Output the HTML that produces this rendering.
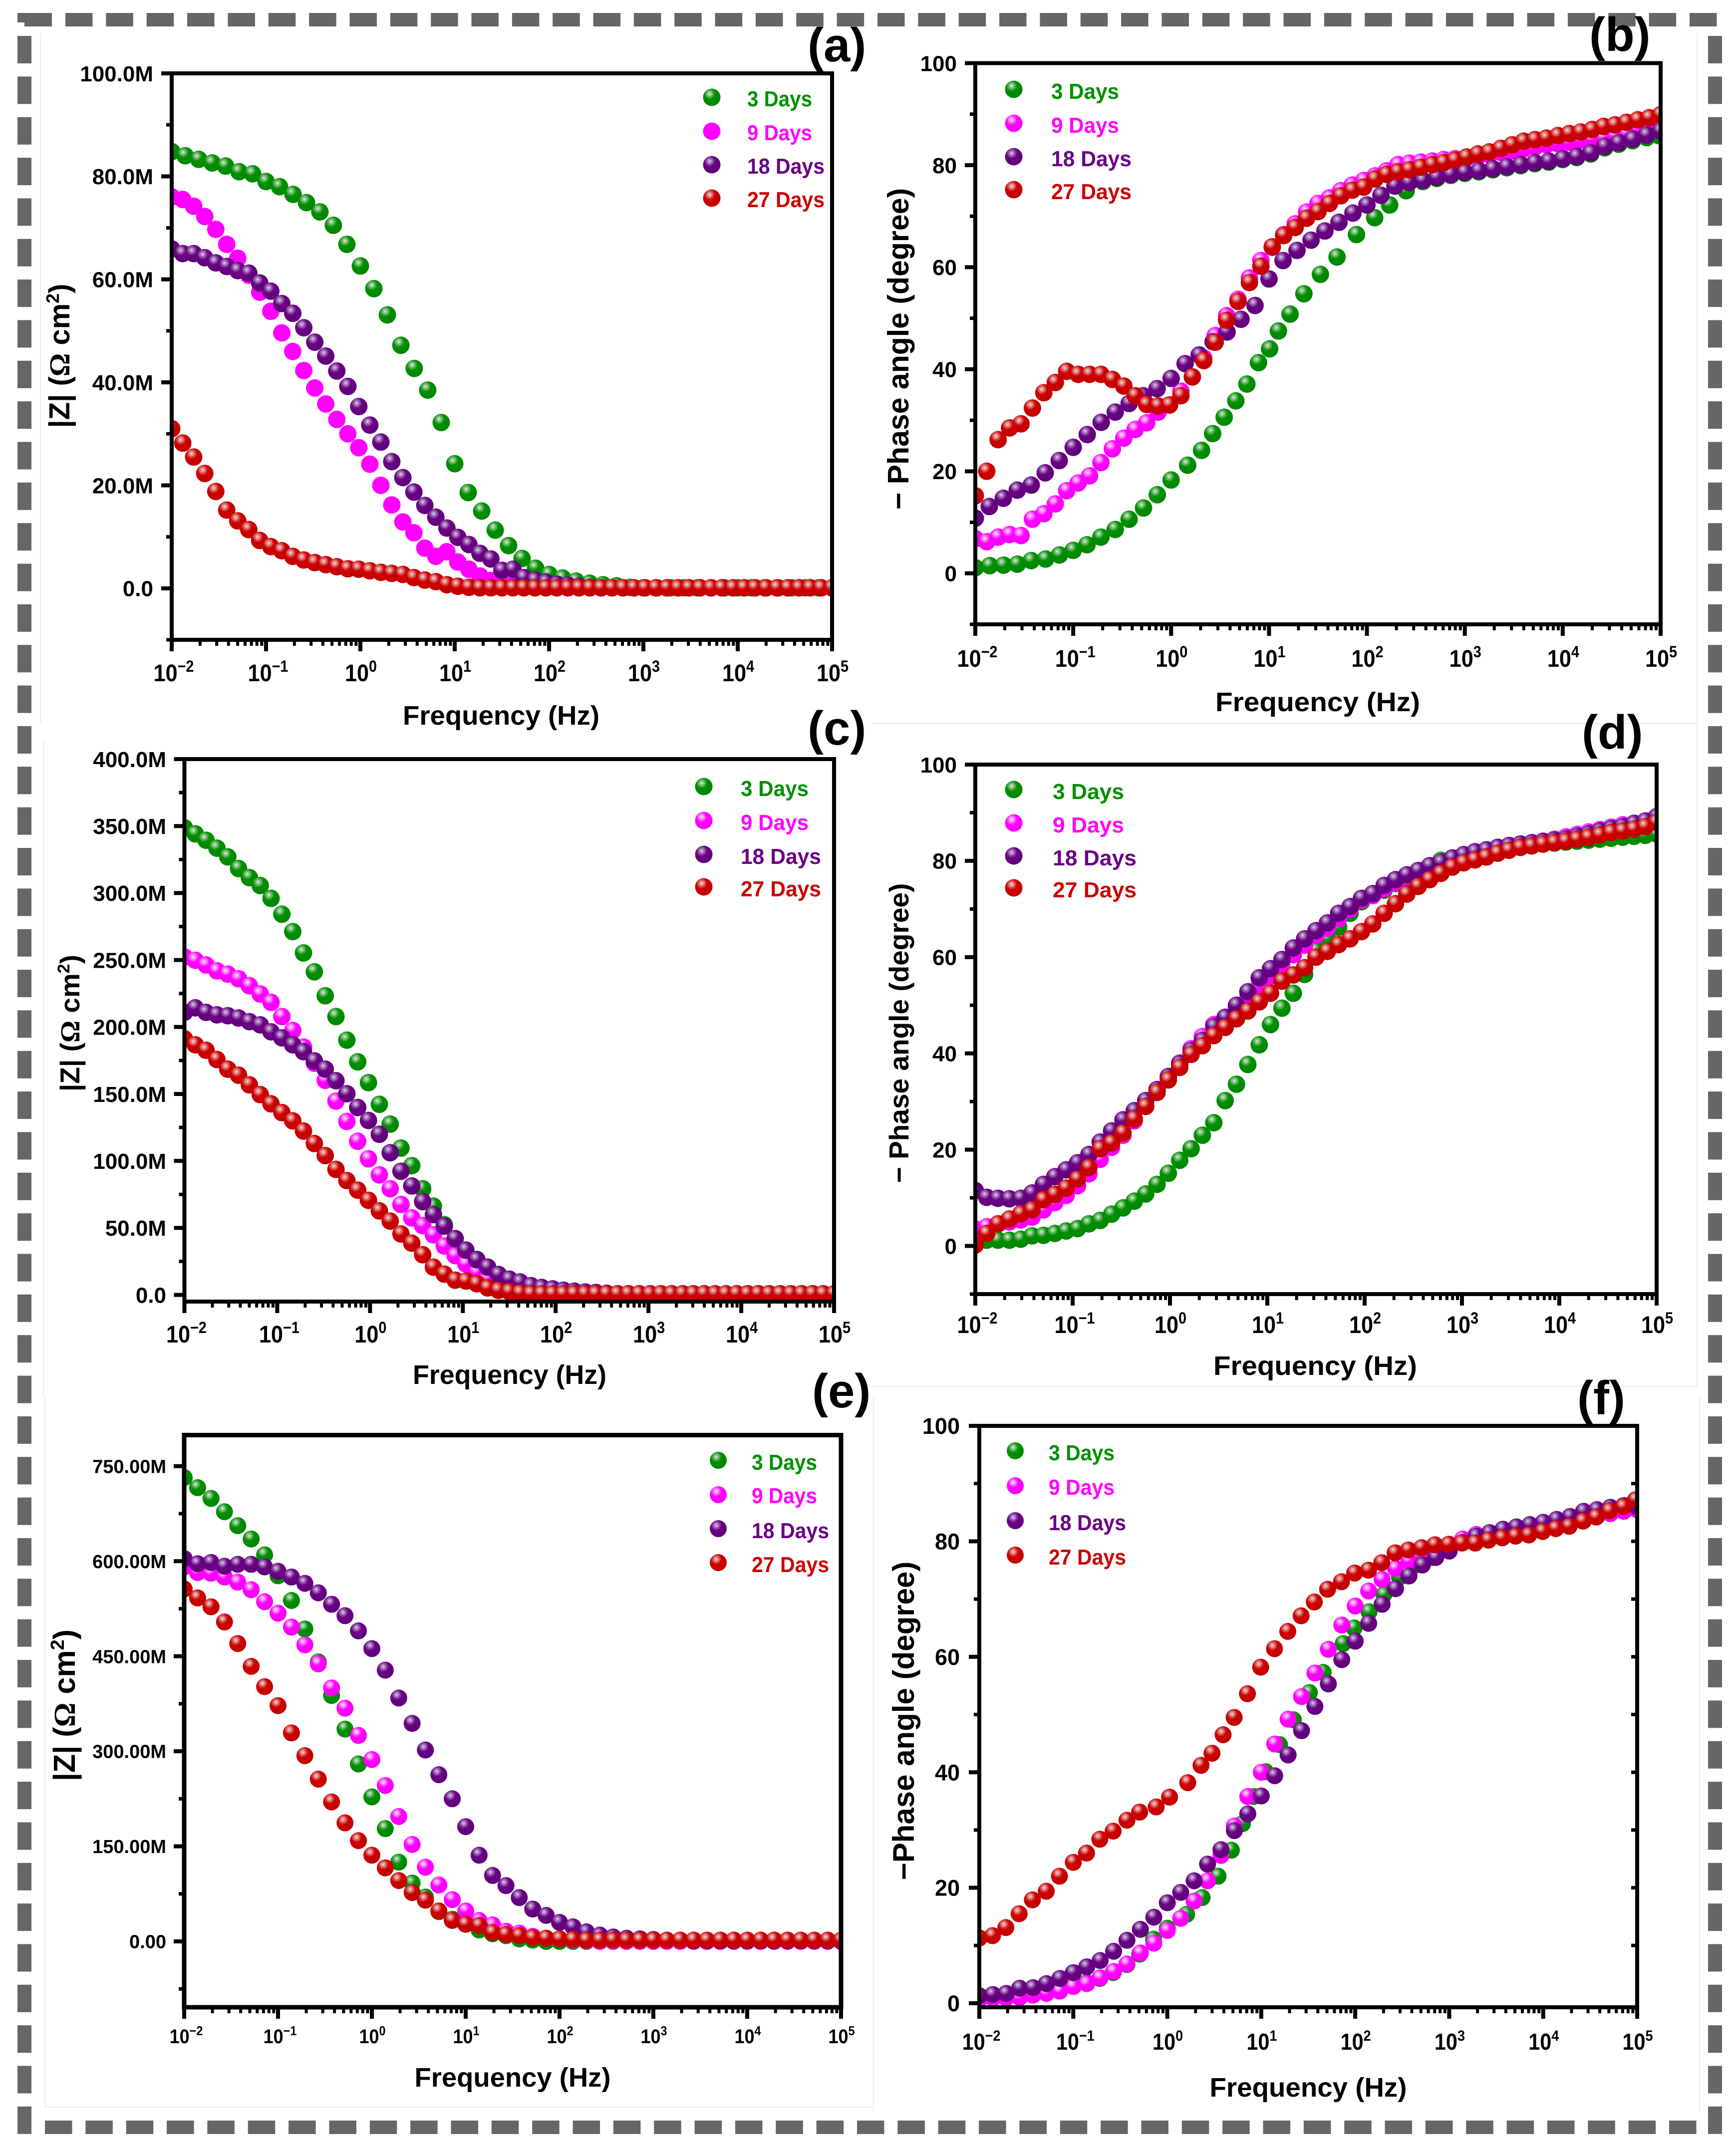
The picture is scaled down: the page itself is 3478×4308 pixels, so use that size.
<!DOCTYPE html>
<html lang="en">
<head>
<meta charset="utf-8">
<title>Bode plots</title>
<style>
html,body{margin:0;padding:0;background:#fff;}
svg{display:block;}
text{font-family:"Liberation Sans",sans-serif;font-weight:bold;fill:#000;}
.tick{font-size:45px;}
.xtitle{font-size:54px;}
.ytitle{font-size:55px;}
.letter{font-size:96px;}
.leg{font-size:44px;}
.g{fill:#009000}.m{fill:#ff00ff}.p{fill:#6a0085}.r{fill:#cc0000}
</style>
</head>
<body>
<svg id="figure" xmlns="http://www.w3.org/2000/svg" width="3478" height="4308" viewBox="0 0 3478 4308">
<defs>
<radialGradient id="sphere-green" cx=".38" cy=".3" r=".62"><stop offset="0" stop-color="#dcecdc"/><stop offset=".18" stop-color="#8cc48c"/><stop offset=".5" stop-color="#009000"/><stop offset="1" stop-color="#008800"/></radialGradient>
<radialGradient id="sphere-magenta" cx=".38" cy=".3" r=".62"><stop offset="0" stop-color="#ffe8ff"/><stop offset=".18" stop-color="#ff9cff"/><stop offset=".5" stop-color="#ff00ff"/><stop offset="1" stop-color="#f800f8"/></radialGradient>
<radialGradient id="sphere-purple" cx=".38" cy=".3" r=".62"><stop offset="0" stop-color="#e0d0e8"/><stop offset=".18" stop-color="#aa80bc"/><stop offset=".5" stop-color="#6a0085"/><stop offset="1" stop-color="#62007c"/></radialGradient>
<radialGradient id="sphere-red" cx=".38" cy=".3" r=".62"><stop offset="0" stop-color="#f4d8d8"/><stop offset=".18" stop-color="#e48c8c"/><stop offset=".5" stop-color="#cc0000"/><stop offset="1" stop-color="#c40000"/></radialGradient>
</defs>
<rect width="3478" height="4308" fill="#fff"/>
<g id="decor"></g>

<g fill="none" stroke="#ececec" stroke-width="2">
<path d="M81 66V1450M87 1485V2800M90 2800V4222H1748M1745 1450H3400V2778H1745M1750 2800V4230M3405 2800V4230M3400 66V1450"/>
</g>

<g id="panel-a"></g>
<g id="panel-b"></g>
<g id="panel-c"></g>
<g id="panel-d"></g>
<g id="panel-e"></g>
<g id="panel-f"></g>

<!-- panel letters -->
<text class="letter" x="1618" y="123">(a)</text>
<text class="letter" x="3184" y="102">(b)</text>
<text class="letter" x="1618" y="1492">(c)</text>
<text class="letter" x="3169" y="1500">(d)</text>
<text class="letter" x="1627" y="2820">(e)</text>
<text class="letter" x="3160" y="2834">(f)</text>

<!-- x titles -->
<text class="xtitle" x="1004" y="1452" text-anchor="middle" textLength="394" lengthAdjust="spacingAndGlyphs">Frequency (Hz)</text>
<text class="xtitle" x="2640" y="1425" text-anchor="middle" textLength="410" lengthAdjust="spacingAndGlyphs">Frequency (Hz)</text>
<text class="xtitle" x="1021" y="2773" text-anchor="middle" textLength="388" lengthAdjust="spacingAndGlyphs">Frequency (Hz)</text>
<text class="xtitle" x="2635" y="2755" text-anchor="middle" textLength="408" lengthAdjust="spacingAndGlyphs">Frequency (Hz)</text>
<text class="xtitle" x="1027" y="4181" text-anchor="middle" textLength="393" lengthAdjust="spacingAndGlyphs">Frequency (Hz)</text>
<text class="xtitle" x="2621" y="4201" text-anchor="middle" textLength="395" lengthAdjust="spacingAndGlyphs">Frequency (Hz)</text>

<!-- y titles -->
<text class="ytitle" style="font-size:58px" transform="translate(139 713) rotate(-90)" text-anchor="middle">|Z| (<tspan font-family="Liberation Serif">Ω</tspan> cm<tspan font-size="36" dy="-21">2</tspan><tspan dy="21">)</tspan></text>
<text class="ytitle" style="font-size:59px" transform="translate(1820 699) rotate(-90)" text-anchor="middle">− Phase angle (degree)</text>
<text class="ytitle" transform="translate(159 2050) rotate(-90)" text-anchor="middle">|Z| (<tspan font-family="Liberation Serif">Ω</tspan> cm<tspan font-size="34" dy="-20">2</tspan><tspan dy="20">)</tspan></text>
<text class="ytitle" style="font-size:55px" transform="translate(1820 2070) rotate(-90)" text-anchor="middle">− Phase angle (degree)</text>
<text class="ytitle" style="font-size:61px" transform="translate(150 3417) rotate(-90)" text-anchor="middle">|Z| (<tspan font-family="Liberation Serif">Ω</tspan> cm<tspan font-size="38" dy="-22">2</tspan><tspan dy="22">)</tspan></text>
<text class="ytitle" style="font-size:60px" transform="translate(1831 3448) rotate(-90)" text-anchor="middle">−Phase angle (degree)</text>

<!-- legends -->
<g>
<circle cx="1426" cy="195" r="17.5" fill="url(#sphere-green)"/>
<circle cx="1426" cy="263" r="17.5" fill="#ff00ff"/>
<circle cx="1426" cy="330" r="17.5" fill="url(#sphere-purple)"/>
<circle cx="1426" cy="397" r="17.5" fill="url(#sphere-red)"/>
<text class="leg g" x="1497" y="213" textLength="130" lengthAdjust="spacingAndGlyphs">3 Days</text>
<text class="leg m" x="1497" y="281" textLength="130" lengthAdjust="spacingAndGlyphs">9 Days</text>
<text class="leg p" x="1497" y="348" textLength="155" lengthAdjust="spacingAndGlyphs">18 Days</text>
<text class="leg r" x="1497" y="415" textLength="155" lengthAdjust="spacingAndGlyphs">27 Days</text>
</g>
<g>
<circle cx="2031" cy="179" r="17.5" fill="url(#sphere-green)"/>
<circle cx="2031" cy="247" r="17.5" fill="url(#sphere-magenta)"/>
<circle cx="2031" cy="314" r="17.5" fill="url(#sphere-purple)"/>
<circle cx="2031" cy="380" r="17.5" fill="url(#sphere-red)"/>
<text class="leg g" x="2106" y="198" textLength="136" lengthAdjust="spacingAndGlyphs">3 Days</text>
<text class="leg m" x="2106" y="266" textLength="136" lengthAdjust="spacingAndGlyphs">9 Days</text>
<text class="leg p" x="2106" y="333" textLength="161" lengthAdjust="spacingAndGlyphs">18 Days</text>
<text class="leg r" x="2106" y="399" textLength="161" lengthAdjust="spacingAndGlyphs">27 Days</text>
</g>
<g>
<circle cx="1410" cy="1576" r="17.5" fill="url(#sphere-green)"/>
<circle cx="1410" cy="1644" r="17.5" fill="url(#sphere-magenta)"/>
<circle cx="1410" cy="1712" r="17.5" fill="url(#sphere-purple)"/>
<circle cx="1410" cy="1777" r="17.5" fill="url(#sphere-red)"/>
<text class="leg g" x="1484" y="1595" textLength="136" lengthAdjust="spacingAndGlyphs">3 Days</text>
<text class="leg m" x="1484" y="1663" textLength="136" lengthAdjust="spacingAndGlyphs">9 Days</text>
<text class="leg p" x="1484" y="1731" textLength="161" lengthAdjust="spacingAndGlyphs">18 Days</text>
<text class="leg r" x="1484" y="1796" textLength="161" lengthAdjust="spacingAndGlyphs">27 Days</text>
</g>
<g>
<circle cx="2031" cy="1582" r="17.5" fill="url(#sphere-green)"/>
<circle cx="2031" cy="1649" r="17.5" fill="url(#sphere-magenta)"/>
<circle cx="2031" cy="1715" r="17.5" fill="url(#sphere-purple)"/>
<circle cx="2031" cy="1779" r="17.5" fill="url(#sphere-red)"/>
<text class="leg g" x="2109" y="1601" textLength="143" lengthAdjust="spacingAndGlyphs">3 Days</text>
<text class="leg m" x="2109" y="1668" textLength="143" lengthAdjust="spacingAndGlyphs">9 Days</text>
<text class="leg p" x="2109" y="1734" textLength="168" lengthAdjust="spacingAndGlyphs">18 Days</text>
<text class="leg r" x="2109" y="1798" textLength="168" lengthAdjust="spacingAndGlyphs">27 Days</text>
</g>
<g>
<circle cx="1439" cy="2926" r="17" fill="url(#sphere-green)"/>
<circle cx="1439" cy="2995" r="17" fill="url(#sphere-magenta)"/>
<circle cx="1439" cy="3063" r="17" fill="url(#sphere-purple)"/>
<circle cx="1439" cy="3131" r="17" fill="url(#sphere-red)"/>
<text class="leg g" x="1506" y="2945" textLength="131" lengthAdjust="spacingAndGlyphs">3 Days</text>
<text class="leg m" x="1506" y="3012" textLength="131" lengthAdjust="spacingAndGlyphs">9 Days</text>
<text class="leg p" x="1506" y="3082" textLength="155" lengthAdjust="spacingAndGlyphs">18 Days</text>
<text class="leg r" x="1506" y="3150" textLength="155" lengthAdjust="spacingAndGlyphs">27 Days</text>
</g>
<g>
<circle cx="2034" cy="2907" r="17" fill="url(#sphere-green)"/>
<circle cx="2034" cy="2977" r="17" fill="url(#sphere-magenta)"/>
<circle cx="2034" cy="3047" r="17" fill="url(#sphere-purple)"/>
<circle cx="2034" cy="3116" r="17" fill="url(#sphere-red)"/>
<text class="leg g" x="2101" y="2926" textLength="132" lengthAdjust="spacingAndGlyphs">3 Days</text>
<text class="leg m" x="2101" y="2995" textLength="132" lengthAdjust="spacingAndGlyphs">9 Days</text>
<text class="leg p" x="2101" y="3066" textLength="155" lengthAdjust="spacingAndGlyphs">18 Days</text>
<text class="leg r" x="2101" y="3135" textLength="155" lengthAdjust="spacingAndGlyphs">27 Days</text>
</g>
</svg>

<script>
// Frequency sweeps, log10(Hz)
const logF7 = [-2,-1.857,-1.714,-1.571,-1.429,-1.286,-1.143,-1,-0.857,-0.714,-0.571,-0.429,-0.286,-0.143,0,0.143,0.286,0.429,0.571,0.714,0.857,1,1.143,1.286,1.429,1.571,1.714,1.857,2,2.143,2.286,2.429,2.571,2.714,2.857,3,3.143,3.286,3.429,3.571,3.714,3.857,4,4.143,4.286,4.429,4.571,4.714,4.857,5];
const logF8 = [-2,-1.883,-1.767,-1.65,-1.533,-1.417,-1.3,-1.183,-1.067,-0.95,-0.833,-0.717,-0.6,-0.483,-0.367,-0.25,-0.133,-0.017,0.1,0.217,0.333,0.45,0.567,0.683,0.8,0.917,1.033,1.15,1.267,1.383,1.5,1.617,1.733,1.85,1.967,2.083,2.2,2.317,2.433,2.55,2.667,2.783,2.9,3.017,3.133,3.25,3.367,3.483,3.6,3.717,3.833,3.95,4.067,4.183,4.3,4.417,4.533,4.65,4.767,4.883,5];
const logFb3 = [-2,-1.853,-1.712,-1.571,-1.429,-1.282,-1.141,-1,-0.859,-0.718,-0.571,-0.429,-0.282,-0.141,0,0.169,0.311,0.424,0.542,0.661,0.774,0.893,1.006,1.096,1.215,1.356,1.525,1.695,1.893,2.079,2.232,2.401,2.571,2.714,2.857,3,3.143,3.286,3.429,3.571,3.714,3.857,4,4.143,4.286,4.429,4.571,4.714,4.857,4.98];
const logFf3 = [-2,-1.859,-1.718,-1.576,-1.435,-1.288,-1.147,-1,-0.859,-0.718,-0.576,-0.429,-0.294,-0.147,0,0.206,0.371,0.541,0.682,0.8,0.918,1.047,1.194,1.341,1.512,1.659,1.871,1.988,2.147,2.306,2.471,2.647,2.824,3,3.147,3.294,3.429,3.571,3.714,3.857,4,4.143,4.286,4.429,4.571,4.714,4.857,5];
const logFf27 = [-2,-1.859,-1.718,-1.576,-1.435,-1.288,-1.147,-1,-0.859,-0.718,-0.576,-0.429,-0.294,-0.118,0.024,0.218,0.359,0.476,0.594,0.712,0.853,0.994,1.141,1.282,1.424,1.565,1.706,1.853,1.994,2.141,2.282,2.424,2.565,2.706,2.847,2.994,3.135,3.276,3.418,3.565,3.706,3.847,3.994,4.135,4.276,4.424,4.565,4.706,4.853,4.982];

// Panel (a) |Z| in M ohm cm2
const a3 = [84.8,84.0,83.3,82.6,82.0,80.9,80.5,79.0,78.0,76.5,74.9,73.1,70.5,66.8,62.6,58.2,53.1,47.2,42.7,38.5,32.2,24.2,18.6,15.0,11.3,8.3,5.8,3.9,2.7,2.0,1.4,1.0,0.7,0.5,0.2,0.1,0.1,0.1,0.1,0.1,0.1,0.1,0.1,0.1,0.1,0.1,0.1,0.1,0.1,0.1];
const a9 = [76.0,75.5,74.2,72.2,69.7,66.8,64.1,60.8,57.5,53.8,49.6,46.0,42.3,38.9,35.8,32.8,30.0,27.3,24.1,20.0,16.2,12.9,10.8,7.8,6.2,7.1,5.1,3.7,2.4,1.5,1.0,0.6,0.4,0.2,0.1,0.1,0.1,0.1,0.1,0.1,0.1,0.1,0.1,0.1,0.1,0.1,0.1,0.1,0.1,0.1,0.1,0.1,0.1,0.1,0.1,0.1,0.1,0.1,0.1,0.1,0.1];
const a18 = [65.9,65.0,65.0,64.2,63.2,62.5,61.7,61.2,59.3,57.7,55.3,53.4,50.6,47.8,45.1,42.2,39.2,35.3,31.7,28.4,24.6,21.5,18.7,16.1,13.8,11.7,9.9,8.5,6.8,5.7,3.5,3.7,2.1,1.6,1.2,0.8,0.6,0.4,0.2,0.1,0.1,0.1,0.1,0.1,0.1,0.1,0.1,0.1,0.1,0.1,0.1,0.1,0.1,0.1,0.1,0.1,0.1,0.1,0.1,0.1,0.1];
const a27 = [31.0,28.2,25.5,22.3,18.8,15.2,13.1,11.4,9.3,8.1,7.3,6.2,5.5,5.0,4.6,4.2,3.8,3.7,3.4,3.1,2.9,2.7,2.1,1.6,1.3,0.7,0.4,0.2,0.1,0.1,0.1,0.1,0.1,0.1,0.1,0.1,0.1,0.1,0.1,0.1,0.1,0.1,0.1,0.1,0.1,0.1,0.1,0.1,0.1,0.1,0.1,0.1,0.1,0.1,0.1,0.1,0.1,0.1,0.1,0.1,0.1];

// Panel (b) phase angle in degrees
const b3 = [1.1,1.5,1.6,1.8,2.5,2.8,3.6,4.5,5.6,7.1,8.6,10.6,12.8,15.4,18.3,21.2,24.1,27.4,30.6,33.8,37.1,41.3,44.0,47.5,50.8,54.8,58.6,62.0,66.4,69.7,72.2,75.0,76.8,77.4,78.0,78.4,78.7,79.1,79.5,79.9,80.3,80.6,81.1,81.5,82.2,83.4,84.1,84.8,85.4,85.8];
const b9 = [6.8,6.2,7.1,7.6,7.4,10.6,11.7,13.6,16.2,17.7,19.1,21.7,24.4,26.5,28.2,29.5,31.6,33.0,35.7,38.5,42.2,46.6,50.5,53.7,57.9,61.3,63.9,66.4,68.5,70.8,72.5,73.6,75.0,76.1,77.0,77.9,78.9,80.1,80.4,80.6,80.8,81.1,81.3,81.4,81.7,82.1,82.5,82.8,83.2,83.6,84,84.2,84.5,84.9,85.1,85.4,85.8,86.3,87.1,87.8,88.6];
const b18 = [10.8,13.1,14.7,16.3,17.3,19.7,22.1,24.7,27.2,29.6,31.6,33.3,34.8,36.2,38.2,41.1,42.8,45.4,47.3,49.8,52.5,57.7,61.3,63.3,65.3,67.1,68.8,70.6,72.2,74.1,75.9,76.6,77.0,77.6,78.2,78.6,78.9,79.3,79.7,80.1,80.5,80.8,81.3,81.7,82.4,83.7,84.4,85.1,85.9,86.7];
const b27 = [15.2,20.0,26.2,28.5,29.3,32.4,35.4,37.4,39.6,39.0,39.0,39.0,38.0,36.7,34.8,33.1,32.8,33.0,34.8,38.5,41.7,45.3,49.6,53.3,57.0,60.2,64.0,66.2,67.8,69.6,70.9,72.5,74.0,75.1,75.7,77.3,78.2,78.7,79.1,79.6,80.1,80.5,81.0,81.6,82.2,82.6,83.3,84.0,84.7,85.0,85.3,85.8,86.2,86.5,87.0,87.6,87.9,88.4,88.9,89.3,89.9];

// Panel (c) |Z| in M ohm cm2
const c3 = [348.7,344.2,339.4,333.5,327,318.3,311.5,305.6,296,284.2,271.2,255.3,241.2,223.3,207.8,190.2,174,158.5,142.3,127.5,109.6,96.5,79.2,66.2,52.4,42,31.7,26.5,20.7,15.2,11.7,8.6,5.9,4.1,3.1,2.4,1.8,1.2,1,0.8,0.8,0.8,0.8,0.8,0.8,0.8,0.8,0.8,0.8,0.8,0.8,0.8,0.8,0.8,0.8,0.8,0.8,0.8,0.8,0.8,0.8];
const c9 = [252.2,249.8,246.3,241.9,239.5,236,230.8,224.6,218.4,207.8,197.4,185,173,160.2,144.7,129.5,114.7,101.6,89.6,79.2,67.5,57.5,51.7,44.8,36.5,29.3,23.1,16.9,12.4,10.3,7.6,5.5,4.8,4.1,3.1,2.4,1.8,1.2,0.8,0.8,0.8,0.8,0.8,0.8,0.8,0.8,0.8,0.8,0.8,0.8,0.8,0.8,0.8,0.8,0.8,0.8,0.8,0.8,0.8,0.8,0.8];
const c18 = [210.9,214.3,210.9,209.1,208.4,206.7,204,201.6,196.4,191.9,186.7,181.6,174.7,168.5,159.9,150.2,139.9,130.2,119.9,106.1,92.3,81.3,69.6,59.9,51.3,42,33.4,26.2,20.7,15.2,11.7,9.6,6.9,5.5,4.5,3.5,2.8,2.2,1.8,1.2,0.8,0.8,0.8,0.8,0.8,0.8,0.8,0.8,0.8,0.8,0.8,0.8,0.8,0.8,0.8,0.8,0.8,0.8,0.8,0.8,0.8];
const c27 = [191.2,186.7,182.6,175.7,168.5,164,156.8,149.5,142.6,136.1,129.9,122.3,113,104,93.7,85.4,78.2,70.6,62.7,55.1,45.5,38.6,30,20.7,15.5,11,10.3,8.3,5.2,3.4,2.4,1.4,0.8,0.8,0.8,0.8,0.8,0.8,0.8,0.8,0.8,0.8,0.8,0.8,0.8,0.8,0.8,0.8,0.8,0.8,0.8,0.8,0.8,0.8,0.8,0.8,0.8,0.8,0.8,0.8,0.8];

// Panel (d) phase angle in degrees
const d3 = [0.5,1.2,1.2,1.2,1.4,2.1,2.2,2.6,3.1,3.6,4.6,5.3,6.6,7.9,9.3,10.8,12.8,15.1,17.8,20.2,23,25.6,30.2,33.6,37.7,41.8,46,49.4,52.5,56.4,61.4,63.8,66.2,69.1,71.5,72.9,73.9,75.3,76.3,77.4,79,80.1,80.6,81,81.5,81.9,82.3,82.6,83,83.3,83.5,83.7,83.9,84.1,84.3,84.5,84.7,84.9,85.1,85.3,85.6];
const d9 = [3.5,4,4.6,5,5.4,6,7.5,9,10.5,12.5,15,18,20.5,23,26,29,32,35,38,41,43.5,46,47.5,49.5,51.5,54,56,58,60.5,62.5,64.5,66,68,70,71.8,72.8,74.2,75.5,76.7,77.8,79,79.7,80.6,81.3,81.6,82.2,82.8,83.1,83.5,83.8,84.1,84.5,85,85.5,86,86.5,87,87.5,87.8,88,88.3];
const d18 = [11.5,10.1,9.9,9.8,9.9,11.0,12.8,14.4,15.8,17.3,19.0,21.6,23.9,26.2,28.1,30.2,32.5,35.2,37.9,40.6,42.7,45.6,47.5,50,52.8,55.7,57.6,59.5,61.9,63.8,65.5,67.1,69.1,70.5,72.2,73.2,74.9,76.1,77.1,78.0,79,79.7,80.6,81.3,81.9,82.3,82.8,83.2,83.5,83.7,84,84.3,84.6,85.1,85.6,86.2,86.7,87.1,87.8,88.3,89.2];
const d27 = [0.2,2.6,4.6,5.6,6.7,7.5,9.6,10.7,12,13.9,16.3,20.2,21.4,23.5,26.4,29,31.9,34.5,37.1,39.8,41.6,43.7,45.4,47.2,48.8,50.7,52.5,55,56.3,57.8,60,61.2,62.6,63.8,65.3,66.9,69.1,71.1,73.1,74.7,76.1,77.4,78.7,79.6,80.2,80.8,81.6,82.2,82.8,83.1,83.5,83.8,84.1,84.5,84.9,85.4,85.9,86.2,86.6,87.1,88.0];

// Panel (e) |Z| in M ohm cm2
const e3 = [732,716,699,678,656,635,610,577,538,493,441,388,335,280,228,178,125,92,70,47,35,29,18,12,9,4,2,0,0,0,0,0,0,0,0,0,0,0,0,0,0,0,0,0,0,0,0,0,0,0];
const e9 = [591,582,581,575,567,555,536,518,496,468,438,400,368,325,287,246,197,153,117,89,66,48,33,26,16,13,8,5,4,2,1,0,0,0,0,0,0,0,0,0,0,0,0,0,0,0,0,0,0,0];
const e18 = [604,596,598,592,595,595,591,584,575,565,550,532,514,490,462,428,384,344,302,263,225,181,136,104,88,69,51,41,30,23,15,10,7,5,4,3,2,2,1,1,1,1,1,1,1,1,1,1,1,1];
const e27 = [556,542,528,504,470,434,402,372,329,293,256,220,187,159,136,116,96,77,65,48,33,27,25,14,11,9,6,5,4,3,2,2,2,2,2,2,2,2,2,2,2,2,2,2,2,2,2,2,2,2];

// Panel (f) phase angle in degrees
const f3 = [0.7,1.0,1.1,1.2,1.5,1.9,2.1,3,3.6,4.3,5.3,6.7,8.5,11.1,13,15.4,18.3,22,26.5,31.1,35.8,40.1,44.8,49.1,53.8,57.3,62.3,65,67.8,70.8,73.8,75.9,77.2,78.5,79.8,80.6,81.5,81.7,81.9,82.3,82.5,82.9,83.2,83.6,84.3,84.8,85.2,85.5];
const f9 = [0.7,0.9,0.9,1,1.4,1.7,2.1,2.9,3.4,4.4,5.5,6.8,8.7,10.4,12.6,14.7,17.7,21.2,25.6,30.7,35.8,40,44.9,49.2,53.1,57.2,61.3,65.5,68.8,71.4,73.4,75.3,76.6,78.5,78.9,79.5,80.4,81.2,81.5,81.7,81.9,82.3,82.5,82.9,83.2,83.6,84.3,84.8,85.2,85.5];
const f18 = [1.3,1.5,1.7,2.6,2.7,3.4,4.3,5.3,6.3,7.4,9,10.9,12.8,14.9,17.4,19.2,21.2,24.1,26.6,29.9,32.8,35.9,39.4,43,47.2,51.4,55.3,59.5,62.7,65.8,69.1,71.8,74,75.9,77.2,78.3,79.8,80.9,81.5,82.1,82.5,82.9,83.3,83.8,84.3,85.2,85.5,85.9,86.2,86];
const f27 = [11.3,11.7,13.1,15.5,17.9,19.4,22,24.4,26,28.4,29.8,31.7,33.1,34,35.7,38.2,41.2,43.3,46.5,49.5,53.6,58.2,61.4,64.4,67.1,69.5,71.7,73,74.5,75,76.3,78,78.5,78.9,79.4,79.5,79.7,79.7,80.2,80.6,80.9,81.1,81.7,82.2,82.6,83.5,84.2,85.3,86,87.2];

// Tick values and labels
const xDecades = [-2,-1,0,1,2,3,4,5];
const xMinorFactors = [2,3,4,5,6,7,8,9];
const zTicksA = [0,20,40,60,80,100];
const zLabelsA = ["0.0","20.0M","40.0M","60.0M","80.0M","100.0M"];
const zMinorA = [-10,10,30,50,70,90];
const zTicksC = [0,50,100,150,200,250,300,350,400];
const zLabelsC = ["0.0","50.0M","100.0M","150.0M","200.0M","250.0M","300.0M","350.0M","400.0M"];
const zMinorC = [25,75,125,175,225,275,325,375];
const zTicksE = [0,150,300,450,600,750];
const zLabelsE = ["0.00","150.00M","300.00M","450.00M","600.00M","750.00M"];
const zMinorE = [-75,75,225,375,525,675];
const phaseTicks = [0,20,40,60,80,100];
const phaseLabels = ["0","20","40","60","80","100"];
const phaseMinor = [-10,10,30,50,70,90];
const phaseMinorF = [10,30,50,70,90];

const NS = 'http://www.w3.org/2000/svg';
function add(parent, tag, attrs){
  const el = document.createElementNS(NS, tag);
  for (const k in attrs) el.setAttribute(k, attrs[k]);
  parent.appendChild(el);
  return el;
}

function drawBorder(){
  const g = document.getElementById('decor');
  const DASH = '#666666';
  for (let x = 131, i = 0; x < 3440; x += 81.35, i++){
    const d = add(g,'rect',{x:x,y:26,width:Math.min(54.5,3450-x),height:27,fill:DASH});
    
    
  }
  const c1 = add(g,'rect',{x:35,y:26,width:69,height:19,fill:DASH});
  
  
  const c2 = add(g,'rect',{x:49,y:26,width:55,height:27,fill:DASH});
  
  
  for (let y = 72; y < 4260; y += 81.35){
    const l = add(g,'rect',{x:35,y:y,width:28,height:Math.min(55,4276-y),fill:DASH});
    
    
    const r = add(g,'rect',{x:3422,y:y,width:28,height:Math.min(55,4276-y),fill:DASH});
    
    
  }
  for (let x = 90; x < 3410; x += 81.35){
    const b = add(g,'rect',{x:x,y:4249,width:54.5,height:27,fill:DASH});
    
    
  }
}

function drawPanel(id, geo, series, yMaj, yLab, yMin){
  const g = document.getElementById('panel-' + id);
  const sx = v => geo.L + (v + 2) / 7 * (geo.R - geo.L);
  const sy = v => geo.B - (v - geo.yMin) / (geo.yMax - geo.yMin) * (geo.B - geo.T);

  const clip = add(g,'clipPath',{id:'clip-' + id});
  add(clip,'rect',{x:geo.L,y:geo.T,width:geo.R-geo.L,height:geo.B-geo.T});

  const marks = add(g,'g',{'clip-path':'url(#clip-' + id + ')'});
  
  
  series.forEach(s => {
    const sg = add(marks,'g',{fill:s.fill});
    
    
    s.values.forEach((v,i) => {
      if (i >= s.freq.length) return;
      const c = add(sg,'circle',{cx:sx(s.freq[i]).toFixed(1),cy:sy(v).toFixed(1),r:geo.r});
      
      
    });
  });

  const frame = add(g,'rect',{x:geo.L,y:geo.T,width:geo.R-geo.L,height:geo.B-geo.T,fill:'none',stroke:'#000','stroke-width':geo.sw});
  
  

  xDecades.forEach((d,di) => {
    const x = sx(d);
    const t = add(g,'line',{x1:x,x2:x,y1:geo.B,y2:geo.B+23,stroke:'#000','stroke-width':8});
    
    
    const shift = d < 0 ? 4 : 1;
    const lab = add(g,'text',{transform:'translate(' + (x+shift) + ' ' + (geo.B+geo.xLabDy) + ') scale(.9 1)','text-anchor':'middle','font-size':geo.xFs});
    
    
    lab.appendChild(document.createTextNode('10'));
    const sup = add(lab,'tspan',{'font-size':Math.round(geo.xFs*0.66),dy:-Math.round(geo.xFs*0.4)});
    sup.textContent = String(d).replace('-','\u2212');
    if (di < xDecades.length - 1){
      xMinorFactors.forEach(f => {
        const mx = sx(d + Math.log10(f));
        const m = add(g,'line',{x1:mx,x2:mx,y1:geo.B,y2:geo.B+12,stroke:'#000','stroke-width':6});
        
        
      });
    }
  });

  yMaj.forEach((v,i) => {
    const y = sy(v);
    const t = add(g,'line',{x1:geo.L-21,x2:geo.L,y1:y,y2:y,stroke:'#000','stroke-width':8});
    
    
    const lab = add(g,'text',{x:geo.yLabX,y:y+geo.yFs*0.36,'text-anchor':'end','font-size':geo.yFs});
    
    
    lab.textContent = yLab[i];
    if (geo.rightTicks && v !== 0){
      const rt = add(g,'line',{x1:geo.R-12,x2:geo.R,y1:y,y2:y,stroke:'#000','stroke-width':7});
      
      
    }
  });
  yMin.forEach(v => {
    const y = sy(v);
    const t = add(g,'line',{x1:geo.L-11,x2:geo.L,y1:y,y2:y,stroke:'#000','stroke-width':7});
    
    
    if (geo.rightTicks){
      const rt = add(g,'line',{x1:geo.R-12,x2:geo.R,y1:y,y2:y,stroke:'#000','stroke-width':7});
      
      
    }
  });
}

const GREEN = 'url(#sphere-green)', MAG = 'url(#sphere-magenta)', PUR = 'url(#sphere-purple)', RED = 'url(#sphere-red)';

drawBorder();

drawPanel('a',{L:344,R:1667,T:147,B:1282,yMin:-10,yMax:100,r:17.5,sw:8,xFs:48,xLabDy:83,yFs:44,yLabX:307},[
  {name:'3-days',freq:logF7,values:a3,fill:GREEN},
  {name:'9-days',freq:logF8,values:a9,fill:'#ff00ff'},
  {name:'18-days',freq:logF8,values:a18,fill:PUR},
  {name:'27-days',freq:logF8,values:a27,fill:RED}
],zTicksA,zLabelsA,zMinorA);

drawPanel('b',{L:1954,R:3327,T:126.5,B:1251,yMin:-10,yMax:100,r:17.5,sw:8,xFs:48,xLabDy:85,yFs:44,yLabX:1917},[
  {name:'3-days',freq:logFb3,values:b3,fill:GREEN},
  {name:'9-days',freq:logF8,values:b9,fill:MAG},
  {name:'18-days',freq:logF7,values:b18,fill:PUR},
  {name:'27-days',freq:logF8,values:b27,fill:RED}
],phaseTicks,phaseLabels,phaseMinor);

drawPanel('c',{L:369.5,R:1671,T:1521,B:2608,yMin:-5,yMax:400,r:17.5,sw:8,xFs:48,xLabDy:82,yFs:44,yLabX:333},[
  {name:'3-days',freq:logF8,values:c3,fill:GREEN},
  {name:'9-days',freq:logF8,values:c9,fill:MAG},
  {name:'18-days',freq:logF8,values:c18,fill:PUR},
  {name:'27-days',freq:logF8,values:c27,fill:RED}
],zTicksC,zLabelsC,zMinorC);

drawPanel('d',{L:1954,R:3319,T:1532,B:2593,yMin:-10,yMax:100,r:17.5,sw:8,xFs:48,xLabDy:78,yFs:44,yLabX:1917},[
  {name:'3-days',freq:logF8,values:d3,fill:GREEN},
  {name:'9-days',freq:logF8,values:d9,fill:MAG},
  {name:'18-days',freq:logF8,values:d18,fill:PUR},
  {name:'27-days',freq:logF8,values:d27,fill:RED}
],phaseTicks,phaseLabels,phaseMinor);

drawPanel('e',{L:369,R:1685,T:2875.5,B:4022,yMin:-104,yMax:799,r:17,sw:9,xFs:40,xLabDy:72,yFs:38,yLabX:333},[
  {name:'3-days',freq:logF7,values:e3,fill:GREEN},
  {name:'9-days',freq:logF7,values:e9,fill:MAG},
  {name:'18-days',freq:logF7,values:e18,fill:PUR},
  {name:'27-days',freq:logF7,values:e27,fill:RED}
],zTicksE,zLabelsE,zMinorE);

drawPanel('f',{L:1962,R:3280,T:2857,B:4022,yMin:-0.7,yMax:100,r:17,sw:8,xFs:46,xLabDy:85,yFs:45,yLabX:1923,rightTicks:true},[
  {name:'3-days',freq:logFf3,values:f3,fill:GREEN},
  {name:'9-days',freq:logF7,values:f9,fill:MAG},
  {name:'18-days',freq:logF7,values:f18,fill:PUR},
  {name:'27-days',freq:logFf27,values:f27,fill:RED}
],phaseTicks,phaseLabels,phaseMinorF);
</script>
</body>
</html>
